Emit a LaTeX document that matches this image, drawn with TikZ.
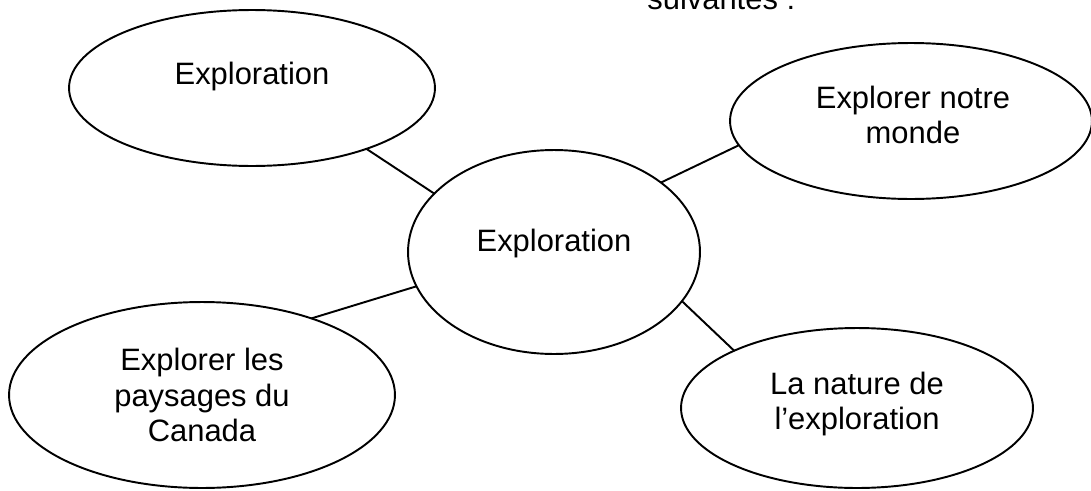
\documentclass[tikz,border=0pt]{standalone}
\usepackage{fontspec}
\setmainfont{Liberation Sans}
\usetikzlibrary{shapes.geometric}
\tikzset{
    bulle/.style={draw, ellipse, line width=1.1pt, inner sep=0pt, outer sep=0pt},
    texte/.style={align=center, inner sep=0pt, font=\fontsize{17.6pt}{20.4pt}\selectfont},
    lien/.style={line width=1.1pt},
  }

\begin{document}
\begin{tikzpicture}[x=0.02cm,y=-0.02cm]
                                    %cadre de la page
                                    \useasboundingbox (0,0) rectangle (1091,490);
                                    \node[texte, anchor=base west] (suite) at (647,9.5) {suivantes :};
                                    %bulles
                                    \node[bulle, minimum width=5.84cm, minimum height=4.08cm] (C) at (554,252) {};
                                    \node[bulle, minimum width=7.32cm, minimum height=3.12cm] (E1) at (252,88) {};
                                    \node[bulle, minimum width=7.24cm, minimum height=3.12cm] (E2) at (911,121) {};
                                    \node[bulle, minimum width=7.72cm, minimum height=3.72cm] (E3) at (202,395) {};
                                    \node[bulle, minimum width=7.04cm, minimum height=3.20cm] (E4) at (857,408) {};
                                    %textes
                                    \node[texte] (tC) at (554,244) {Exploration};
                                    \node[texte] (t1) at (252,77) {Exploration};
                                    \node[texte] (t2) at (913,115) {Explorer notre\\monde};
                                    \node[texte] (t3) at (202,395) {Explorer les\\paysages du\\Canada};
                                    \node[texte] (t4) at (857,404) {La nature de\\l'exploration};
                                    %liens
                                    \draw[lien] (E1.332) -- (C.154);
                                    \draw[lien] (C.33) -- (E2.188);
                                    \draw[lien] (C.194) -- (E3.35);
                                    \draw[lien] (C.339) -- (E4.155);
\end{tikzpicture}
\end{document}
